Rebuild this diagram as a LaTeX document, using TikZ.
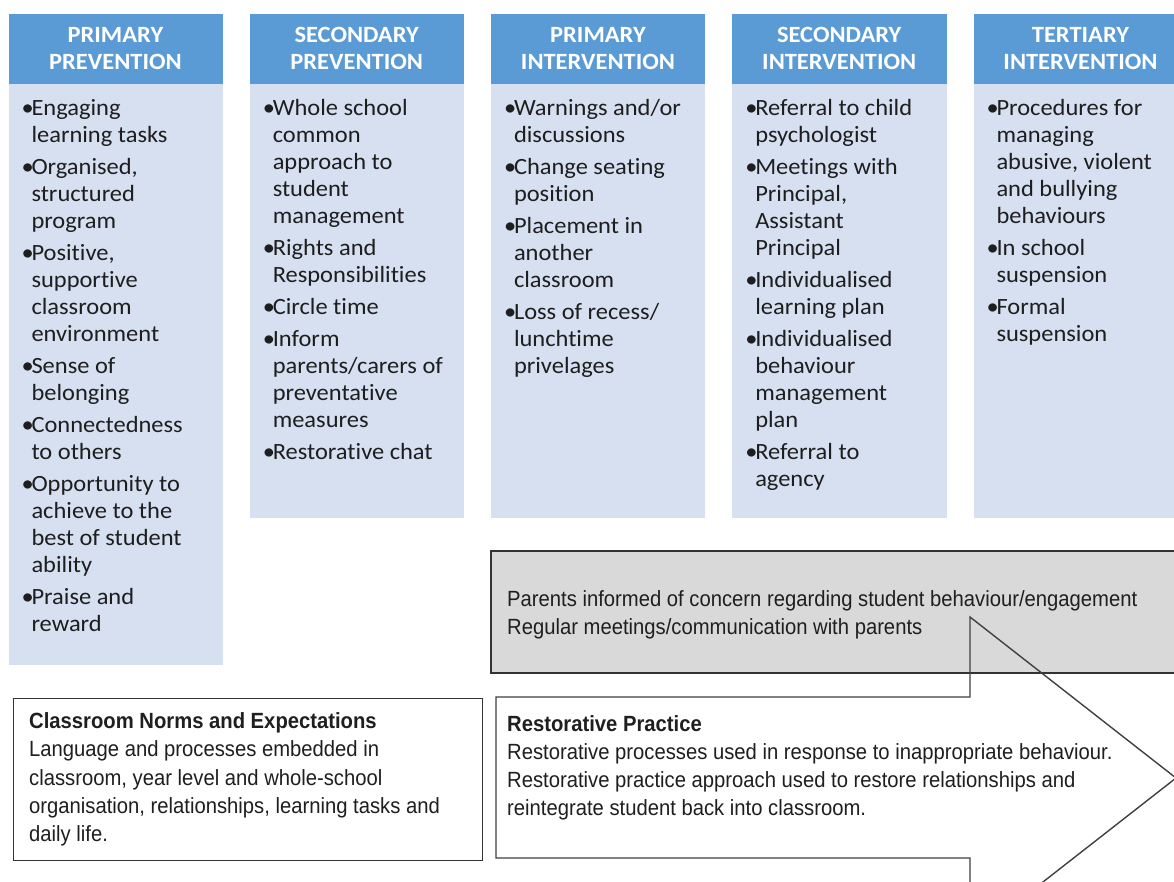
\documentclass[tikz,border=0pt]{standalone}
\usepackage{fontspec}
\newfontfamily\calib{Carlito}[FakeStretch=1.05, Ligatures=NoCommon]
\newfontfamily\arl{Liberation Sans}[FakeStretch=0.92]
\definecolor{hdr}{RGB}{91,155,213}
\definecolor{bdy}{RGB}{214,224,240}
\definecolor{gbox}{RGB}{217,217,217}
\definecolor{txt}{RGB}{30,30,30}
\newcommand\bul{\makebox[10pt][l]{•}}
\tikzset{
  hdrbox/.style={fill=hdr, draw=none, anchor=north west, inner sep=0, minimum width=214.3, minimum height=70.7},
  bdybox/.style={fill=bdy, draw=none, anchor=north west, inner sep=0, minimum width=214.3},
  hdrtext/.style={anchor=base, inner sep=0, text=white, font=\calib\bfseries\fontsize{23.3}{27}\selectfont},
  listtext/.style={anchor=base west, inner sep=0, text=txt, font=\calib\fontsize{23.3}{27}\selectfont},
  boxtext/.style={anchor=base west, inner sep=0, text=black!88, font=\arl\fontsize{22}{28.3}\selectfont},
  framebox/.style={draw=black!80, line width=1.5pt, anchor=north west, inner sep=0},
  arrowline/.style={draw=black!75, line width=1.4pt, line join=miter},
}
\begin{document}
\begin{tikzpicture}[x=1pt,y=-1pt]
\useasboundingbox (0,0) rectangle (1174,881);
\clip (0,0) rectangle (1174,881);
\fill[white] (0,0) rectangle (1174,881);

% ---------- columns ----------
\node[hdrbox] (h1) at (8.3,13.3) {};
\node[bdybox, minimum height=581] (b1) at (8.3,84) {};
\node[hdrbox] (h2) at (249.55,13.3) {};
\node[bdybox, minimum height=434] (b2) at (249.55,84) {};
\node[hdrbox] (h3) at (490.8,13.3) {};
\node[bdybox, minimum height=434] (b3) at (490.8,84) {};
\node[hdrbox] (h4) at (732.05,13.3) {};
\node[bdybox, minimum height=434] (b4) at (732.05,84) {};
\node[hdrbox] (h5) at (973.3,13.3) {};
\node[bdybox, minimum height=434] (b5) at (973.3,84) {};

\node[hdrtext] (t1) at (115.45,42.3) {\begin{tabular}[t]{@{}c@{}}PRIMARY\\PREVENTION\end{tabular}};
\node[hdrtext] (t2) at (356.7,42.3) {\begin{tabular}[t]{@{}c@{}}SECONDARY\\PREVENTION\end{tabular}};
\node[hdrtext] (t3) at (597.95,42.3) {\begin{tabular}[t]{@{}c@{}}PRIMARY\\INTERVENTION\end{tabular}};
\node[hdrtext] (t4) at (839.2,42.3) {\begin{tabular}[t]{@{}c@{}}SECONDARY\\INTERVENTION\end{tabular}};
\node[hdrtext] (t5) at (1080.45,42.3) {\begin{tabular}[t]{@{}c@{}}TERTIARY\\INTERVENTION\end{tabular}};

\node[listtext] (l1) at (21.3,115) {\begin{tabular}[t]{@{}l@{}l@{}}
\bul & Engaging\\ & learning tasks\\[5pt]
\bul & Organised,\\ & structured\\ & program\\[5pt]
\bul & Positive,\\ & supportive\\ & classroom\\ & environment\\[5pt]
\bul & Sense of\\ & belonging\\[5pt]
\bul & Connectedness\\ & to others\\[5pt]
\bul & Opportunity to\\ & achieve to the\\ & best of student\\ & ability\\[5pt]
\bul & Praise and\\ & reward
\end{tabular}};

\node[listtext] (l2) at (262.55,115) {\begin{tabular}[t]{@{}l@{}l@{}}
\bul & Whole school\\ & common\\ & approach to\\ & student\\ & management\\[5pt]
\bul & Rights and\\ & Responsibilities\\[5pt]
\bul & Circle time\\[5pt]
\bul & Inform\\ & parents/carers of\\ & preventative\\ & measures\\[5pt]
\bul & Restorative chat
\end{tabular}};

\node[listtext] (l3) at (503.8,115) {\begin{tabular}[t]{@{}l@{}l@{}}
\bul & Warnings and/or\\ & discussions\\[5pt]
\bul & Change seating\\ & position\\[5pt]
\bul & Placement in\\ & another\\ & classroom\\[5pt]
\bul & Loss of recess/\\ & lunchtime\\ & privelages
\end{tabular}};

\node[listtext] (l4) at (745.05,115) {\begin{tabular}[t]{@{}l@{}l@{}}
\bul & Referral to child\\ & psychologist\\[5pt]
\bul & Meetings with\\ & Principal,\\ & Assistant\\ & Principal\\[5pt]
\bul & Individualised\\ & learning plan\\[5pt]
\bul & Individualised\\ & behaviour\\ & management\\ & plan\\[5pt]
\bul & Referral to\\ & agency
\end{tabular}};

\node[listtext] (l5) at (986.3,115) {\begin{tabular}[t]{@{}l@{}l@{}}
\bul & Procedures for\\ & managing\\ & abusive, violent\\ & and bullying\\ & behaviours\\[5pt]
\bul & In school\\ & suspension\\[5pt]
\bul & Formal\\ & suspension
\end{tabular}};

% ---------- lower part ----------
\node[framebox, fill=gbox, minimum width=720, minimum height=122] (gray) at (490,550) {};
\node[boxtext] (graytext) at (507,606) {\begin{tabular}[t]{@{}l@{}}
Parents informed of concern regarding student behaviour/engagement\\
Regular meetings/communication with parents
\end{tabular}};

\node[framebox, minimum width=469, minimum height=162] (norms) at (12.5,697.5) {};
\node[boxtext] (normstext) at (29,728.5) {\begin{tabular}[t]{@{}l@{}}
\textbf{Classroom Norms and Expectations}\\
Language and processes embedded in\\
classroom, year level and whole-school\\
organisation, relationships, learning tasks and\\
daily life.
\end{tabular}};

\draw[arrowline] (496,697) -- (970,697) -- (970,617) -- (1176,778) -- (970,939) -- (970,858) -- (496,858) -- cycle;
\coordinate (arrowtip) at (1176,778);
\node[boxtext] (resttext) at (507,731) {\begin{tabular}[t]{@{}l@{}}
\textbf{Restorative Practice}\\
Restorative processes used in response to inappropriate behaviour.\\
Restorative practice approach used to restore relationships and\\
reintegrate student back into classroom.
\end{tabular}};
\end{tikzpicture}
\end{document}
